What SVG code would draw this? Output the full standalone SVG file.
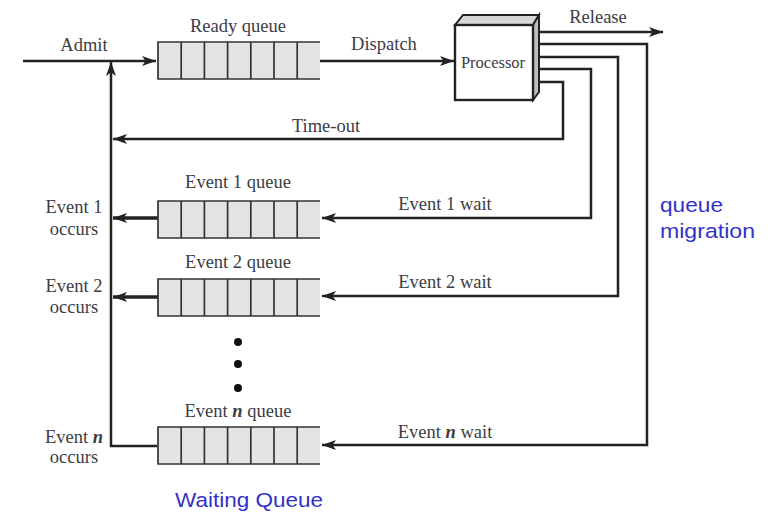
<svg xmlns="http://www.w3.org/2000/svg" width="773" height="514" viewBox="0 0 773 514">
<style>
.t{font-family:"Liberation Serif","Times New Roman",serif;font-size:18.5px;fill:#3c3c44;text-anchor:middle}
.b{font-family:"Liberation Sans",Arial,sans-serif;font-size:20.5px;fill:#3232c8}
.ln{fill:none;stroke:#222;stroke-width:2.5}
.bold{fill:none;stroke:#222;stroke-width:3.4}
.cell{fill:#e4e4e4;stroke:none}
.qs{fill:none;stroke:#333;stroke-width:1.7}
</style>
<defs>
<marker id="ah" markerUnits="userSpaceOnUse" markerWidth="16" markerHeight="12" refX="14" refY="6" orient="auto">
<path d="M0,1 L14,6 L0,11 L3.5,6 z" fill="#222"/>
</marker>
<g id="queue">
<rect class="cell" x="0" y="0" width="162" height="37"/>
<path class="qs" d="M162,0 H0 V37 H162 M23.2,0 V37 M46.4,0 V37 M69.6,0 V37 M92.8,0 V37 M116,0 V37 M139.2,0 V37"/>
</g>
</defs>

<g id="connectors">
<path class="ln" d="M23,61 H156" marker-end="url(#ah)"/>
<path class="ln" d="M320,61 H454" marker-end="url(#ah)"/>
<path class="ln" d="M533,32 H663" marker-end="url(#ah)"/>
<path class="ln" d="M157,446 H111 V62" marker-end="url(#ah)"/>
<path class="ln" d="M533,82 H563 V139 H113" marker-end="url(#ah)"/>
<path class="ln" d="M533,69 H591 V218 H322" marker-end="url(#ah)"/>
<path class="ln" d="M533,57 H618 V296 H322" marker-end="url(#ah)"/>
<path class="ln" d="M533,44 H647 V445 H322" marker-end="url(#ah)"/>
<path class="bold" d="M158,218 H113" marker-end="url(#ah)"/>
<path class="bold" d="M158,297 H113" marker-end="url(#ah)"/>
</g>

<g id="admit"><text class="t" x="84" y="51">Admit</text></g>

<g id="ready-queue">
<use href="#queue" x="158" y="42"/>
<text class="t" x="238" y="32">Ready queue</text>
</g>

<g id="dispatch"><text class="t" x="384" y="50">Dispatch</text></g>

<g id="processor">
<path d="M455,25 L463,15 H539 L533,25 Z" fill="#d6d6d6" stroke="#222" stroke-width="2"/>
<path d="M533,25 L539,15 V92 L533,100 Z" fill="#bdbdbd" stroke="#222" stroke-width="2"/>
<rect x="455" y="25" width="78" height="75" fill="#fff" stroke="#222" stroke-width="2.4"/>
<text class="t" x="493" y="68" style="font-size:16.5px">Processor</text>
</g>

<g id="release"><text class="t" x="598" y="23">Release</text></g>
<g id="timeout"><text class="t" x="326" y="132">Time-out</text></g>

<g id="event1-queue">
<use href="#queue" x="158" y="201"/>
<text class="t" x="238" y="188">Event 1 queue</text>
</g>
<g id="event1-wait"><text class="t" x="445" y="210">Event 1 wait</text></g>
<g id="event1-occurs">
<text class="t" x="74" y="213">Event 1</text>
<text class="t" x="74" y="235">occurs</text>
</g>

<g id="event2-queue">
<use href="#queue" x="158" y="279"/>
<text class="t" x="238" y="268">Event 2 queue</text>
</g>
<g id="event2-wait"><text class="t" x="445" y="288">Event 2 wait</text></g>
<g id="event2-occurs">
<text class="t" x="74" y="292">Event 2</text>
<text class="t" x="74" y="313">occurs</text>
</g>

<g id="dots" fill="#111">
<circle cx="238" cy="342" r="4"/>
<circle cx="238" cy="364" r="4"/>
<circle cx="238" cy="388" r="4"/>
</g>

<g id="eventn-queue">
<use href="#queue" x="158" y="427"/>
<text class="t" x="238" y="417">Event <tspan font-style="italic" font-weight="bold">n</tspan> queue</text>
</g>
<g id="eventn-wait"><text class="t" x="445" y="438">Event <tspan font-style="italic" font-weight="bold">n</tspan> wait</text></g>
<g id="eventn-occurs">
<text class="t" x="74" y="443">Event <tspan font-style="italic" font-weight="bold">n</tspan></text>
<text class="t" x="74" y="463">occurs</text>
</g>

<g id="queue-migration">
<text class="b" x="660" y="212" textLength="63" lengthAdjust="spacingAndGlyphs">queue</text>
<text class="b" x="660" y="238" textLength="95" lengthAdjust="spacingAndGlyphs">migration</text>
</g>
<g id="waiting-queue">
<text class="b" x="175" y="507" textLength="148" lengthAdjust="spacingAndGlyphs">Waiting Queue</text>
</g>
</svg>
